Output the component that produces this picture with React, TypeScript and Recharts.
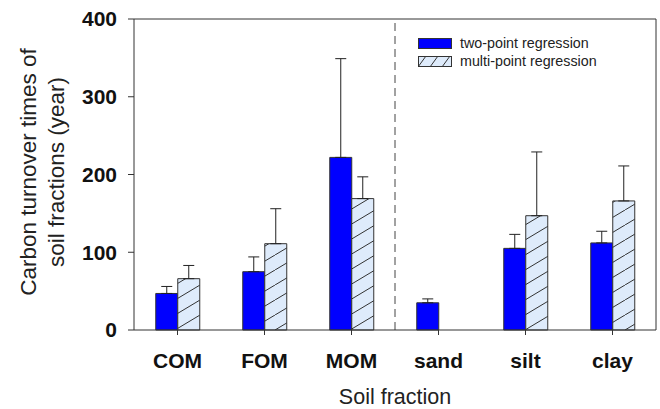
import {
  BarChart,
  Bar,
  XAxis,
  YAxis,
  ErrorBar,
  ReferenceLine,
  Legend,
  Label,
} from 'recharts'

const categories = ['COM', 'FOM', 'MOM', 'sand', 'silt', 'clay']
const twoPoint = [47, 75, 222, 35, 105, 112]
const twoPointErr = [9, 19, 127, 5, 18, 15]
const multiPoint: (number | null)[] = [66, 111, 169, null, 147, 166]
const multiPointErr: (number | null)[] = [17, 45, 28, null, 82, 45]
const yTicks = [0, 100, 200, 300, 400]

const BLUE = '#0000ff'
const HATCH_BG = '#deebfb'
const EDGE = '#333333'
const FONT = 'Arial, "Liberation Sans", sans-serif'

const data = categories.map((name, i) => ({
  name,
  two: twoPoint[i],
  twoErr: [0, twoPointErr[i]],
  multi: multiPoint[i],
  multiErr: multiPoint[i] == null ? null : [0, multiPointErr[i]],
}))

/** Two-line rotated y title */
function YTitle() {
  const style = { fontFamily: FONT, fontSize: 22.5, fill: '#222' }
  return (
    <g>
      <text x={28} y={172} transform="rotate(-90 28 172)" textAnchor="middle" dominantBaseline="central" style={style}>
        Carbon turnover times of
      </text>
      <text x={56} y={172} transform="rotate(-90 56 172)" textAnchor="middle" dominantBaseline="central" style={style}>
        soil fractions (year)
      </text>
    </g>
  )
}

function LegendBox() {
  const row = { display: 'flex', alignItems: 'center', height: 18 }
  const txt = { fontSize: 14.3, color: '#222', marginLeft: 8 }
  return (
    <div style={{ fontFamily: FONT }}>
      <div style={row}>
        <svg width={34} height={11}>
          <rect x={0.5} y={0.5} width={33} height={10} fill={BLUE} stroke={EDGE} />
        </svg>
        <span style={txt}>two-point regression</span>
      </div>
      <div style={row}>
        <svg width={34} height={11}>
          <defs>
            <pattern id="hatchLeg" patternUnits="userSpaceOnUse" width={12} height={11}>
              <rect width={12} height={11} fill={HATCH_BG} />
              <line x1={0} y1={11} x2={8} y2={0} stroke={EDGE} strokeWidth={1} />
            </pattern>
          </defs>
          <rect x={0.5} y={0.5} width={33} height={10} fill="url(#hatchLeg)" stroke={EDGE} />
        </svg>
        <span style={txt}>multi-point regression</span>
      </div>
    </div>
  )
}

export default function App() {
  return (
    <div style={{ position: 'absolute', left: 0, top: 0, background: '#fff' }}>
      <BarChart
        width={660}
        height={409}
        data={data}
        margin={{ top: 19, right: 4, bottom: 0, left: 0 }}
        barCategoryGap="25%"
        barGap={0}
      >
        <defs>
          <pattern id="hatch" patternUnits="userSpaceOnUse" width={25} height={15}>
            <rect width={25} height={15} fill={HATCH_BG} />
            <line x1={0} y1={15} x2={25} y2={0} stroke={EDGE} strokeWidth={1} />
          </pattern>
        </defs>
        <XAxis
          dataKey="name"
          height={79}
          tickSize={5}
          tickLine={{ stroke: EDGE }}
          axisLine={{ stroke: EDGE }}
          tick={{ fontSize: 21, fontWeight: 'bold', fill: '#111', fontFamily: FONT, dy: 16 }}
        >
          <Label value="Soil fraction" position="insideBottom" offset={5} style={{ fontSize: 21.5, fill: '#222', fontFamily: FONT }} />
        </XAxis>
        <YAxis
          width={134}
          domain={[0, 400]}
          ticks={yTicks}
          tickSize={6}
          tickMargin={11}
          tickLine={{ stroke: EDGE }}
          axisLine={{ stroke: EDGE }}
          tick={{ fontSize: 21, fontWeight: 'bold', fill: '#111', fontFamily: FONT }}
          label={<YTitle />}
        />
        <ReferenceLine y={400} stroke={EDGE} />
        <ReferenceLine x="clay" position="end" stroke={EDGE} />
        <ReferenceLine x="sand" position="start" stroke="#444" strokeDasharray="8 5" />
        <Legend
          layout="horizontal"
          verticalAlign="middle"
          align="center"
          content={<LegendBox />}
          wrapperStyle={{ position: 'absolute', left: 418, top: 34, width: 230 }}
        />
        <Bar dataKey="two" name="two-point regression" fill={BLUE} stroke={EDGE} strokeWidth={1} isAnimationActive={false}>
          <ErrorBar dataKey="twoErr" width={5.5} stroke="#222" strokeWidth={1} direction="y" />
        </Bar>
        <Bar dataKey="multi" name="multi-point regression" fill="url(#hatch)" stroke={EDGE} strokeWidth={1} isAnimationActive={false}>
          <ErrorBar dataKey="multiErr" width={5.5} stroke="#222" strokeWidth={1} direction="y" />
        </Bar>
      </BarChart>
    </div>
  )
}
